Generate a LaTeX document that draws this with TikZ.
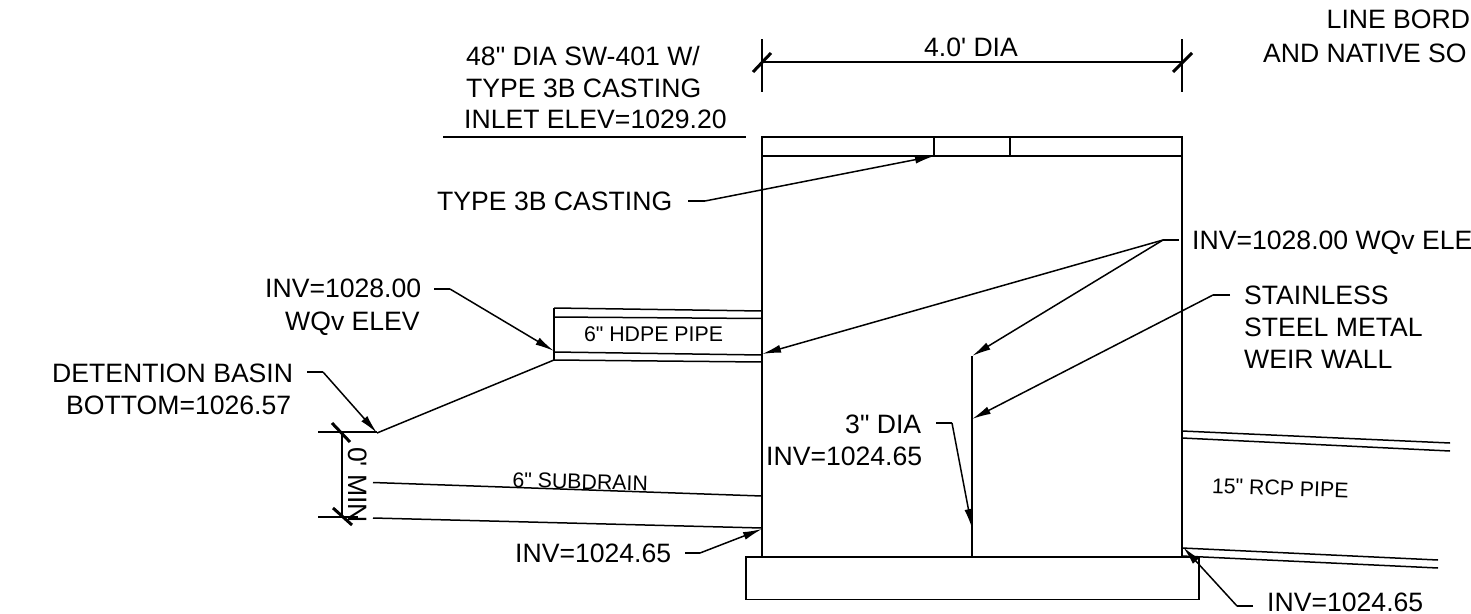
\documentclass[tikz,border=0pt]{standalone}
\usepackage{fontspec}
\newfontfamily\lsans{Liberation Sans}
\usetikzlibrary{arrows.meta}
\tikzset{
  ln/.style={draw=black,line width=1.5pt},
  thin ln/.style={draw=black,line width=1.2pt},
  tick/.style={draw=black,line width=3pt},
  lead/.style={draw=black,line width=1.5pt,-{Latex[length=19pt,width=8pt]}},
  lbl/.style={inner sep=0pt,font=\lsans\fontsize{26.6}{26.6}\selectfont,anchor=base west},
  lbc/.style={inner sep=0pt,font=\lsans\fontsize{26.6}{26.6}\selectfont,anchor=base},
  small/.style={inner sep=0pt,font=\lsans\fontsize{21.3}{21.3}\selectfont,anchor=base}
}
\begin{document}
\begin{tikzpicture}[x=1pt,y=-1pt]
\useasboundingbox (0,0) rectangle (1471,613);
\begin{scope}
\clip (0,0) rectangle (1471,613);
% structure
\draw[ln] (762,137) rectangle (1182,557);
\draw[ln] (762,156) -- (1182,156);
\draw[ln] (934,137) -- (934,156);
\draw[ln] (1010,137) -- (1010,156);
\draw[ln] (746,557) rectangle (1199,599.5);
\coordinate (wtop) at (972,356);
\coordinate (wbot) at (972,557);
\draw[ln] (wtop) -- (wbot);
% dimension top
\coordinate (dl) at (762,62); \coordinate (dr) at (1182,62);
\draw[thin ln] (762,39) -- (762,92);
\draw[thin ln] (1182,39) -- (1182,92);
\draw[thin ln] (dl) -- (dr);
\draw[tick] (753,72) -- (771,53);
\draw[tick] (1173,72) -- (1192,53);
\node[lbc] (tdia) at (971,56) {4.0' DIA};
% top-left block
\node[lbl] (t1) at (466,65) {48" DIA SW-401 W/};
\node[lbl] (t2) at (466,97) {TYPE 3B CASTING};
\node[lbl] (t3) at (464,128) {INLET ELEV=1029.20};
\draw[thin ln] (443,137) -- (746,137);
% casting leader
\node[lbl] (cast) at (437,210) {TYPE 3B CASTING};
\coordinate (castb) at (705,201);
\coordinate (casttip) at (934,156);
\draw[ln] (688,201) -- (castb);
\draw[lead] (castb) -- (casttip);
% HDPE pipe
\draw[ln] (554,308) -- (762,311);
\draw[ln] (554,317) -- (762,318.5);
\draw[ln] (554,352) -- (762,355);
\draw[ln] (554,360) -- (762,362);
\draw[ln] (554,308) -- (554,360);
\node[small] (hdpe) at (653.5,341) {6" HDPE PIPE};
% left labels
\node[lbl] (inv1) at (265,297) {INV=1028.00};
\node[lbl] (wqv) at (285,330) {WQv ELEV};
\coordinate (invk) at (450,289);
\draw[ln] (434,289) -- (invk);
\draw[lead] (invk) -- (554,351);
\node[lbl] (det1) at (52,382) {DETENTION BASIN};
\node[lbl] (det2) at (66,414) {BOTTOM=1026.57};
\coordinate (detk) at (323,372);
\draw[ln] (307,372) -- (detk);
\draw[lead] (detk) -- (377,433);
% slope
\draw[ln] (377,433) -- (554,360);
% dim left
\draw[ln] (318,432) -- (377,432);
\draw[thin ln] (318,517) -- (358,517);
\draw[thin ln] (342,432) -- (342,517);
\draw[tick] (332,423) -- (350,442);
\draw[tick] (333,508) -- (352,525);
\node[lbl,rotate=-90] (min) at (348,447) {0' MIN};
% subdrain
\draw[ln] (373,482.5) -- (762,496);
\draw[ln] (373,518) -- (762,528);
\node[small,rotate=-1.5] (sub) at (580,489) {6" SUBDRAIN};
% bottom inv left
\node[lbl] (invl) at (515,562) {INV=1024.65};
\coordinate (invlk) at (700,553);
\draw[ln] (685,553) -- (invlk);
\draw[lead] (invlk) -- (762,529);
% right labels
\node[lbl] (r1) at (1326.5,28) {LINE BORD};
\node[lbl] (r2) at (1263,62) {AND NATIVE SO};
\node[lbl] (r3) at (1192,249.5) {INV=1028.00 WQv ELE};
\coordinate (r3k) at (1163,240);
\draw[ln] (1179,240) -- (r3k);
\draw[lead] (r3k) -- (762,354);
\draw[lead] (r3k) -- (wtop);
\node[lbl] (s1) at (1244,304) {STAINLESS};
\node[lbl] (s2) at (1244,336.5) {STEEL METAL};
\node[lbl] (s3) at (1244,368) {WEIR WALL};
\coordinate (sk) at (1213,295);
\draw[ln] (1230,295) -- (sk);
\draw[lead] (sk) -- (972,419);
% 3 in dia
\node[lbl] (dia3) at (845,433) {3" DIA};
\node[lbl] (inv3) at (766,465) {INV=1024.65};
\coordinate (diak) at (952,423);
\draw[ln] (936,423) -- (diak);
\draw[lead] (diak) -- (972,528);
% RCP
\draw[ln] (1182,431) -- (1450,443);
\draw[ln] (1182,438) -- (1450,451);
\draw[ln] (1182,548) -- (1438,560);
\draw[ln] (1182,556) -- (1438,568);
\node[small,rotate=-2] (rcp) at (1280,495.5) {15" RCP PIPE};
% bottom right
\node[lbl] (invr) at (1267,611) {INV=1024.65};
\coordinate (invrk) at (1237,606);
\draw[ln] (1253,606) -- (invrk);
\draw[lead] (invrk) -- (1183,547);
\end{scope}
\end{tikzpicture}
\end{document}
